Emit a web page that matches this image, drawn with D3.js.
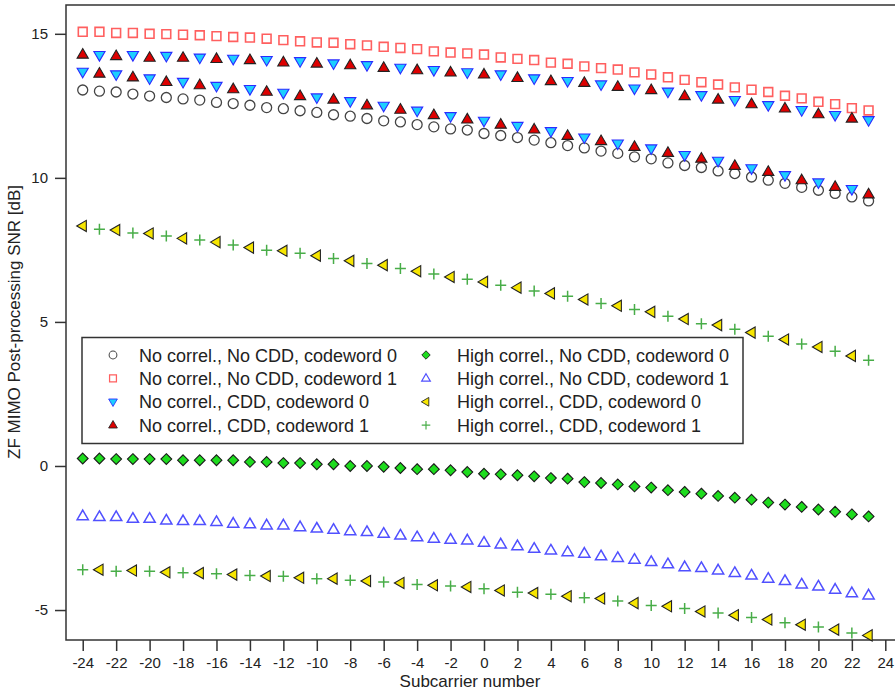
<!DOCTYPE html>
<html lang="en">
<head>
  <meta charset="UTF-8">
  <title>ZF MIMO post-processing SNR</title>
  <script src="https://d3js.org/d3.v7.min.js"></script>
  <style>
    body { margin: 0; background: #fff; }
    svg text { font-family: "Liberation Sans", Arial, sans-serif; fill: #222; }
  </style>
</head>
<body>
  <svg id="chart" width="895" height="692"></svg>

  <script>
    // subcarrier indices (x)
    const subcarriers = [-24,-23,-22,-21,-20,-19,-18,-17,-16,-15,-14,-13,-12,-11,-10,-9,-8,-7,-6,-5,-4,-3,-2,-1,
                         0,1,2,3,4,5,6,7,8,9,10,11,12,13,14,15,16,17,18,19,20,21,22,23];

    // No correlation, no CDD
    const noCorrNoCdd0 = [13.05,13.01,12.98,12.91,12.84,12.79,12.74,12.70,12.62,12.58,12.52,12.44,12.40,12.33,12.27,12.19,
                          12.14,12.06,11.98,11.94,11.85,11.77,11.70,11.66,11.54,11.47,11.40,11.31,11.22,11.12,11.04,10.93,
                          10.85,10.73,10.66,10.52,10.43,10.36,10.24,10.15,10.03,9.92,9.81,9.67,9.57,9.46,9.34,9.20];
    const noCorrNoCdd1 = [15.07,15.07,15.03,15.03,15.00,14.99,14.97,14.95,14.92,14.89,14.87,14.83,14.78,14.74,14.70,14.69,
                          14.64,14.60,14.55,14.51,14.47,14.39,14.35,14.32,14.28,14.18,14.13,14.09,14.00,13.96,13.87,13.81,
                          13.76,13.66,13.59,13.49,13.40,13.32,13.24,13.14,13.06,12.98,12.85,12.76,12.64,12.56,12.42,12.34];

    // No correlation, CDD
    const noCorrCdd0 = [13.68,14.26,13.59,14.26,13.45,14.23,13.33,14.17,13.19,14.13,13.08,14.09,12.95,14.05,12.79,13.97,
                        12.66,13.91,12.50,13.82,12.33,13.74,12.14,13.66,11.98,13.59,11.80,13.45,11.62,13.36,11.40,13.24,
                        11.19,13.10,11.02,12.99,10.79,12.87,10.59,12.70,10.33,12.52,10.09,12.35,9.84,12.18,9.61,12.00];
    const noCorrCdd1 = [14.28,13.62,14.23,13.49,14.17,13.33,14.17,13.22,14.13,13.08,14.09,12.99,14.01,12.84,13.97,12.72,
                        13.91,12.52,13.82,12.37,13.74,12.18,13.66,12.03,13.59,11.85,13.47,11.68,13.36,11.46,13.30,11.28,
                        13.16,11.08,13.05,10.87,12.84,10.67,12.72,10.42,12.56,10.21,12.41,9.92,12.21,9.69,12.06,9.43];

    // High correlation, no CDD
    const hiCorrNoCdd0 = [0.26,0.26,0.24,0.24,0.24,0.24,0.20,0.20,0.20,0.20,0.14,0.14,0.10,0.10,0.06,0.06,
                          0.00,0.00,-0.03,-0.07,-0.11,-0.11,-0.15,-0.21,-0.27,-0.29,-0.32,-0.36,-0.42,-0.44,-0.56,-0.59,
                          -0.64,-0.71,-0.75,-0.84,-0.90,-0.96,-1.04,-1.10,-1.17,-1.27,-1.34,-1.42,-1.51,-1.59,-1.68,-1.75];
    const hiCorrNoCdd1 = [-1.74,-1.77,-1.77,-1.83,-1.83,-1.89,-1.91,-1.91,-1.94,-2.00,-2.02,-2.06,-2.06,-2.12,-2.17,-2.21,
                          -2.26,-2.29,-2.35,-2.41,-2.47,-2.52,-2.56,-2.58,-2.66,-2.72,-2.78,-2.87,-2.93,-2.99,-3.04,-3.13,
                          -3.19,-3.25,-3.33,-3.41,-3.51,-3.54,-3.62,-3.71,-3.80,-3.91,-3.99,-4.11,-4.18,-4.29,-4.41,-4.49];

    // High correlation, CDD
    const hiCorrCdd0 = [8.33,-3.60,8.19,-3.63,8.07,-3.69,7.90,-3.72,7.77,-3.77,7.58,-3.82,7.47,-3.88,7.30,-3.91,
                        7.12,-3.99,6.97,-4.06,6.76,-4.14,6.56,-4.20,6.39,-4.32,6.19,-4.41,5.99,-4.52,5.78,-4.60,
                        5.56,-4.76,5.35,-4.87,5.10,-5.05,4.89,-5.18,4.63,-5.33,4.39,-5.51,4.13,-5.68,3.82,-5.88];
    const hiCorrCdd1 = [-3.60,8.22,-3.65,8.09,-3.65,7.98,-3.71,7.84,-3.74,7.67,-3.80,7.49,-3.83,7.38,-3.91,7.20,
                        -3.97,7.03,-4.03,6.85,-4.11,6.66,-4.17,6.48,-4.26,6.27,-4.38,6.07,-4.45,5.89,-4.57,5.64,
                        -4.69,5.43,-4.84,5.20,-4.95,4.94,-5.10,4.75,-5.26,4.50,-5.44,4.23,-5.59,3.98,-5.80,3.67];

    const xTicks = [-24,-22,-20,-18,-16,-14,-12,-10,-8,-6,-4,-2,0,2,4,6,8,10,12,14,16,18,20,22,24];
    const yTicks = [-5, 0, 5, 10, 15];

    // marker shapes
    const shapes = {
      circle:  "M5,0A5,5 0 1,1 -5,0A5,5 0 1,1 5,0Z",
      square:  "M-4.4,-4.4H4.4V4.4H-4.4Z",
      down:    "M0,6L5.6,-3.6L-5.6,-3.6Z",
      up:      "M0,-6L5.6,3.6L-5.6,3.6Z",
      diamond: "M0,-5.4L5.4,0L0,5.4L-5.4,0Z",
      left:    "M-6,0L3.6,-5.6L3.6,5.6Z",
      plus:    "M-5.5,0H5.5M0,-5.5V5.5"
    };

    const series = [
      { name: "No correl., No CDD, codeword 0",   values: noCorrNoCdd0, shape: "circle",  fill: "none",    stroke: "#444",    sw: 1.3 },
      { name: "No correl., No CDD, codeword 1",   values: noCorrNoCdd1, shape: "square",  fill: "none",    stroke: "#ff5f5f", sw: 1.6 },
      { name: "No correl., CDD, codeword 0",      values: noCorrCdd0,   shape: "down",    fill: "#1ccfff", stroke: "#2b2bff", sw: 1.1 },
      { name: "No correl., CDD, codeword 1",      values: noCorrCdd1,   shape: "up",      fill: "#dd0000", stroke: "#222",    sw: 1.1 },
      { name: "High correl., No CDD, codeword 0", values: hiCorrNoCdd0, shape: "diamond", fill: "#1edc1e", stroke: "#1a1a1a", sw: 1.1 },
      { name: "High correl., No CDD, codeword 1", values: hiCorrNoCdd1, shape: "up",      fill: "none",    stroke: "#5050ff", sw: 1.5 },
      { name: "High correl., CDD, codeword 0",    values: hiCorrCdd0,   shape: "left",    fill: "#f7e600", stroke: "#222",    sw: 1.1 },
      { name: "High correl., CDD, codeword 1",    values: hiCorrCdd1,   shape: "plus",    fill: "none",    stroke: "#48ad48", sw: 1.5 }
    ];

    const svg = d3.select("#chart");
    const plot = { left: 66, top: 5, right: 897, bottom: 640 };

    const x = d3.scaleLinear().domain([-25, 24.7]).range([plot.left, plot.right]);
    const y = d3.scaleLinear().domain([-6.04, 16.0]).range([plot.bottom, plot.top]);

    // frame (right side runs off the picture)
    svg.append("rect")
      .attr("x", plot.left).attr("y", plot.top)
      .attr("width", plot.right - plot.left).attr("height", plot.bottom - plot.top)
      .attr("fill", "none")
      .attr("stroke", "#333")
      .attr("stroke-width", 1.5);

    // axes, with plain hyphen minus signs like the original
    const fmt = d => String(d);
    const xAxis = svg.append("g")
      .attr("transform", `translate(0,${plot.bottom})`)
      .call(d3.axisBottom(x).tickValues(xTicks).tickSize(11).tickPadding(6).tickFormat(fmt));
    const yAxis = svg.append("g")
      .attr("transform", `translate(${plot.left},0)`)
      .call(d3.axisLeft(y).tickValues(yTicks).tickSize(11).tickPadding(7).tickFormat(fmt));

    [xAxis, yAxis].forEach(g => {
      g.select(".domain").remove();
      g.selectAll(".tick line").attr("stroke", "#333").attr("stroke-width", 1.5);
      g.selectAll(".tick text").style("font-size", "15px").attr("fill", "#222");
    });

    // axis titles
    svg.append("text")
      .attr("x", 470).attr("y", 687)
      .attr("text-anchor", "middle")
      .style("font-size", "17px")
      .text("Subcarrier number");

    svg.append("text")
      .attr("transform", "translate(20,322) rotate(-90)")
      .attr("text-anchor", "middle")
      .style("font-size", "17px")
      .text("ZF MIMO Post-processing SNR [dB]");

    // markers
    series.forEach(s => {
      svg.append("g")
        .selectAll("path")
        .data(s.values)
        .join("path")
          .attr("d", shapes[s.shape])
          .attr("transform", (d, i) => `translate(${x(subcarriers[i])},${y(d)})`)
          .attr("fill", s.fill)
          .attr("stroke", s.stroke)
          .attr("stroke-width", s.sw);
    });

    // legend
    const legend = svg.append("g");
    legend.append("rect")
      .attr("x", 82).attr("y", 337.5)
      .attr("width", 661).attr("height", 106)
      .attr("fill", "#fff")
      .attr("stroke", "#333")
      .attr("stroke-width", 1.5);

    const items = legend.selectAll("g.item")
      .data(series)
      .join("g")
        .attr("class", "item")
        .attr("transform", (d, i) => `translate(${i < 4 ? 113 : 426},${355 + (i % 4) * 23.4})`);

    items.append("path")
      .attr("d", d => shapes[d.shape])
      .attr("transform", "scale(0.78)")
      .attr("fill", d => d.fill)
      .attr("stroke", d => d.stroke)
      .attr("stroke-width", d => d.sw);

    items.append("text")
      .attr("x", (d, i) => i < 4 ? 26 : 31).attr("y", 6.5)
      .style("font-size", "18px")
      .text(d => d.name);
  </script>
</body>
</html>
